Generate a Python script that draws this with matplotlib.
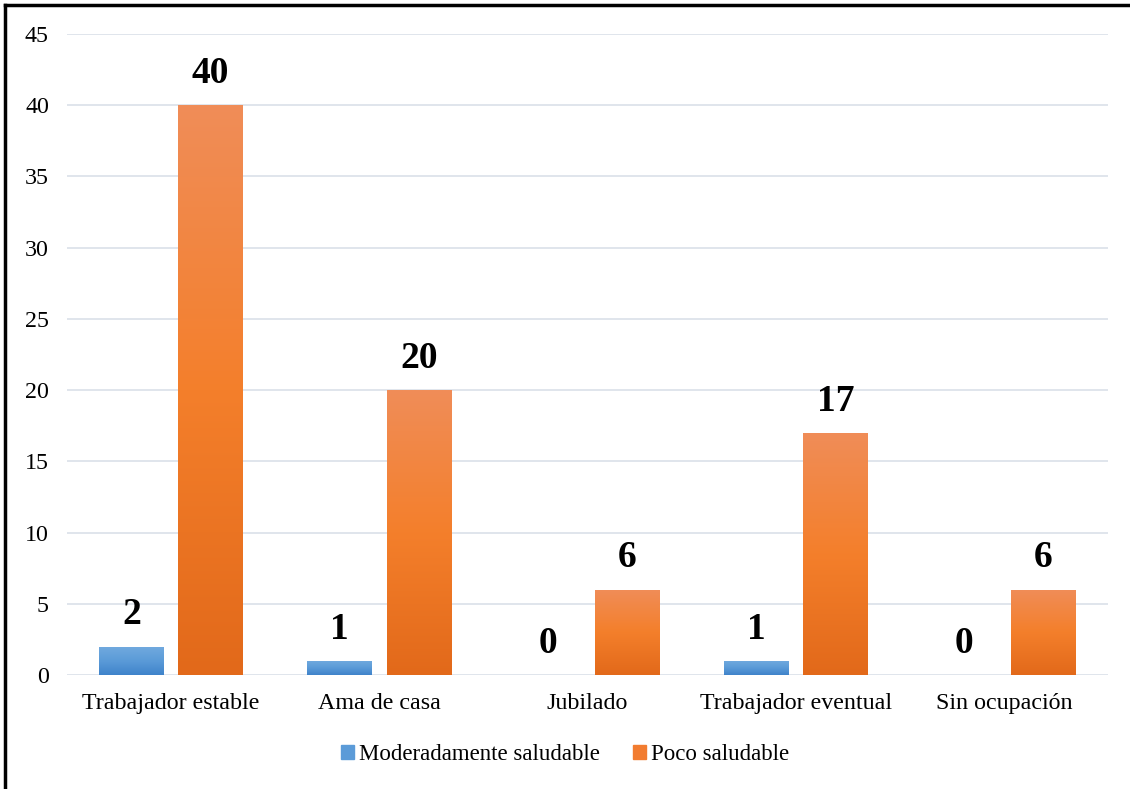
import numpy as np
import matplotlib
matplotlib.use("Agg")
import matplotlib.pyplot as plt
from matplotlib.colors import LinearSegmentedColormap
from matplotlib.lines import Line2D

plt.rcParams['font.family'] = ['Liberation Serif', 'DejaVu Serif']

categorias = ["Trabajador estable", "Ama de casa", "Jubilado",
              "Trabajador eventual", "Sin ocupación"]
moderadamente = [2, 1, 0, 1, 0]
poco = [40, 20, 6, 17, 6]
series = ["Moderadamente saludable", "Poco saludable"]

azul = LinearSegmentedColormap.from_list("azul", ["#3F83CA", "#5B9BD8", "#72AADF"])
naranja = LinearSegmentedColormap.from_list("naranja", ["#E2691A", "#F47F2B", "#F08D58"])

fig = plt.figure(figsize=(11.3, 7.89), dpi=100)
ax = fig.add_axes([67 / 1130, 1 - 675 / 789, (1108 - 67) / 1130, (675 - 34) / 789])

x = np.arange(len(categorias))
w = 0.31
off = 0.19

grad = np.linspace(0, 1, 256).reshape(-1, 1)


def barras(pos, vals, cmap, label):
    bars = ax.bar(pos, vals, w, color=cmap(0.5), label=label, zorder=2)
    for b in bars:
        h = b.get_height()
        if h <= 0:
            continue
        im = ax.imshow(grad, cmap=cmap, aspect='auto', origin='lower',
                       extent=[b.get_x(), b.get_x() + b.get_width(), 0, h], zorder=3)
        im.set_clip_path(b)
    return bars


barras(x - off, moderadamente, azul, series[0])
barras(x + off, poco, naranja, series[1])

for i in range(len(categorias)):
    ax.text(x[i] - off, moderadamente[i] + 1.0, str(moderadamente[i]), ha='center', va='bottom',
            fontsize=27, fontweight='bold')
    ax.text(x[i] + off, poco[i] + 1.0, str(poco[i]), ha='center', va='bottom',
            fontsize=27, fontweight='bold')

ax.set_xlim(-0.5, len(categorias) - 0.5)
ax.set_ylim(0, 45)
ax.set_yticks(range(0, 46, 5))
ax.set_xticks(x)
ax.set_xticklabels(categorias, fontsize=17.3)
ax.tick_params(axis='y', labelsize=17.3, length=0, pad=13)
ax.tick_params(axis='x', length=0, pad=13)
ax.grid(axis='y', color='#DDE3EB', linewidth=1.3, zorder=0)
ax.set_axisbelow(True)
for s in ax.spines.values():
    s.set_visible(False)

handles = [plt.Rectangle((0, 0), 1, 1, color="#5B9BD8"),
           plt.Rectangle((0, 0), 1, 1, color="#F27C30")]
fig.legend(handles, series, loc='center', bbox_to_anchor=(0.5, 1 - 755 / 789), ncol=2,
           frameon=False, fontsize=16.5, handlelength=0.55, handleheight=0.55,
           handletextpad=0.22, columnspacing=1.45)

fig.add_artist(Line2D([5 / 1130, 5 / 1130], [0, 1 - 5 / 789], color='black', lw=2.5,
                      transform=fig.transFigure))
fig.add_artist(Line2D([5 / 1130, 1], [1 - 5 / 789, 1 - 5 / 789], color='black', lw=2.5,
                      transform=fig.transFigure))

fig.savefig("out.png", dpi=100)
